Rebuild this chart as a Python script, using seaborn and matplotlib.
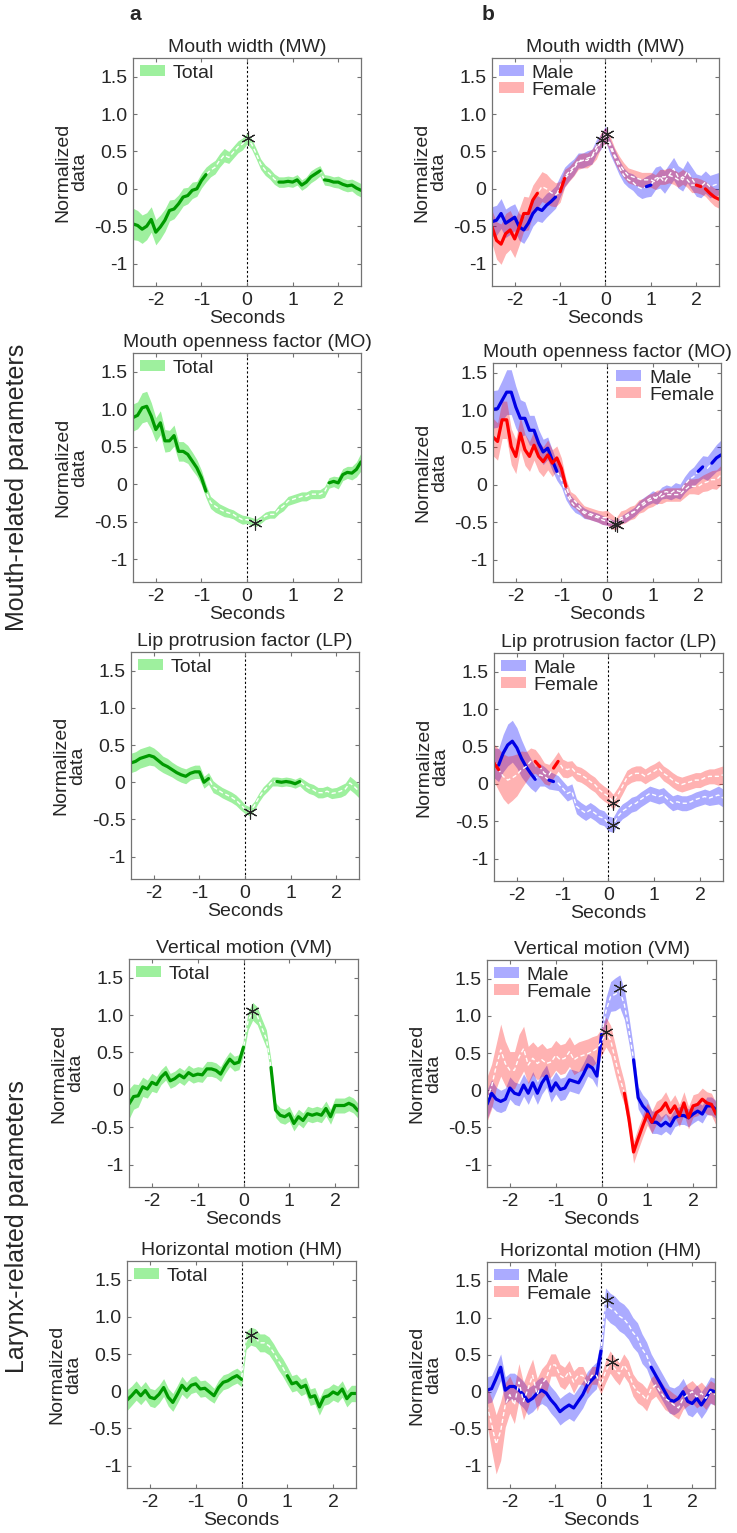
import numpy as np
import pandas as pd
import matplotlib
matplotlib.use('Agg')
import matplotlib.pyplot as plt
import seaborn as sns

###########################
# Data
###########################

# sample times (s), 0.1 s apart
seconds = np.round(np.arange(-25, 26) / 10, 1)

titles = ['Mouth width (MW)', 'Mouth openness factor (MO)', 'Lip protrusion factor (LP)',
          'Vertical motion (VM)', 'Horizontal motion (HM)']

# --- panel a: all speakers ---
mw_total = [-0.47, -0.49, -0.54, -0.50, -0.41, -0.58, -0.51, -0.42, -0.29, -0.27,
            -0.20, -0.11, -0.09, -0.02, 0.00, 0.11, 0.19, 0.25, 0.29, 0.38,
            0.45, 0.42, 0.49, 0.56, 0.60, 0.67, 0.60, 0.47, 0.33, 0.25,
            0.20, 0.13, 0.09, 0.09, 0.10, 0.09, 0.12, 0.05, 0.09, 0.16,
            0.20, 0.24, 0.12, 0.11, 0.09, 0.09, 0.06, 0.04, 0.05, 0.01, -0.02]
mo_total = [0.89, 0.92, 1.02, 1.04, 0.91, 0.73, 0.82, 0.58, 0.58, 0.65,
            0.44, 0.44, 0.40, 0.31, 0.22, 0.09, -0.09, -0.24, -0.29, -0.33,
            -0.36, -0.38, -0.40, -0.44, -0.47, -0.47, -0.49, -0.51, -0.47, -0.42,
            -0.40, -0.40, -0.33, -0.29, -0.22, -0.20, -0.18, -0.16, -0.16, -0.13,
            -0.13, -0.13, -0.10, 0.02, 0.04, 0.02, 0.13, 0.16, 0.15, 0.20, 0.30]
lp_total = [0.26, 0.28, 0.32, 0.34, 0.36, 0.34, 0.29, 0.24, 0.21, 0.17,
            0.13, 0.10, 0.08, 0.12, 0.14, 0.14, 0.00, 0.05, -0.06, -0.10,
            -0.14, -0.17, -0.20, -0.24, -0.30, -0.36, -0.39, -0.32, -0.21, -0.12,
            -0.06, 0.01, 0.01, 0.00, 0.01, 0.00, -0.02, 0.01, -0.04, -0.08,
            -0.10, -0.14, -0.14, -0.12, -0.15, -0.14, -0.12, -0.09, -0.01, -0.06, -0.12]
vm_total = [-0.19, -0.09, -0.08, 0.04, 0.01, 0.10, 0.07, 0.17, 0.23, 0.12,
            0.15, 0.20, 0.16, 0.23, 0.19, 0.21, 0.20, 0.28, 0.28, 0.26,
            0.21, 0.32, 0.41, 0.35, 0.37, 0.57, 0.92, 1.05, 0.99, 0.83,
            0.68, 0.30, -0.27, -0.34, -0.36, -0.32, -0.45, -0.36, -0.41, -0.32,
            -0.34, -0.32, -0.34, -0.25, -0.36, -0.21, -0.21, -0.21, -0.18, -0.21, -0.28]
hm_total = [-0.12, -0.06, 0.01, -0.06, 0.01, -0.08, -0.10, -0.04, 0.05, -0.08,
            -0.15, -0.04, 0.08, 0.01, 0.08, 0.10, 0.03, 0.04, -0.01, -0.06,
            0.05, 0.12, 0.14, 0.18, 0.21, 0.16, 0.68, 0.74, 0.72, 0.65,
            0.65, 0.61, 0.52, 0.41, 0.32, 0.21, 0.10, 0.12, 0.05, 0.08,
            -0.08, -0.06, -0.21, -0.08, -0.06, -0.01, -0.04, 0.03, -0.10, -0.03, -0.03]

hw_mw_total = [0.21, 0.20, 0.19, 0.18, 0.17, 0.17, 0.16, 0.15, 0.14, 0.13,
               0.12, 0.12, 0.11, 0.11, 0.10, 0.10, 0.10, 0.09, 0.09, 0.09,
               0.09, 0.08, 0.08, 0.08, 0.08, 0.07, 0.07, 0.07, 0.07, 0.07,
               0.07, 0.07, 0.07, 0.07, 0.07, 0.07, 0.07, 0.07, 0.07, 0.08,
               0.08, 0.07, 0.07, 0.07, 0.07, 0.08, 0.08, 0.08, 0.08, 0.09, 0.09]
hw_mo_total = [0.18, 0.18, 0.20, 0.20, 0.18, 0.16, 0.16, 0.15, 0.14, 0.14,
               0.13, 0.13, 0.12, 0.12, 0.11, 0.10, 0.09, 0.08, 0.08, 0.07,
               0.07, 0.06, 0.06, 0.06, 0.06, 0.05, 0.05, 0.05, 0.05, 0.05,
               0.05, 0.05, 0.06, 0.06, 0.06, 0.06, 0.06, 0.06, 0.06, 0.06,
               0.06, 0.06, 0.07, 0.07, 0.07, 0.08, 0.08, 0.08, 0.09, 0.10, 0.12]
hw_lp_total = [0.13, 0.13, 0.13, 0.13, 0.13, 0.12, 0.12, 0.11, 0.11, 0.10,
               0.10, 0.10, 0.10, 0.09, 0.09, 0.09, 0.08, 0.08, 0.08, 0.07,
               0.07, 0.07, 0.07, 0.07, 0.07, 0.06, 0.06, 0.06, 0.06, 0.06,
               0.06, 0.06, 0.06, 0.06, 0.06, 0.06, 0.06, 0.06, 0.07, 0.07,
               0.07, 0.07, 0.07, 0.07, 0.07, 0.07, 0.08, 0.08, 0.09, 0.09, 0.09]
hw_vm_total = [0.20, 0.17, 0.15, 0.13, 0.12, 0.12, 0.11, 0.10, 0.10, 0.10,
               0.10, 0.10, 0.10, 0.10, 0.10, 0.10, 0.10, 0.10, 0.10, 0.10,
               0.10, 0.10, 0.10, 0.10, 0.10, 0.10, 0.12, 0.12, 0.12, 0.12,
               0.12, 0.10, 0.10, 0.10, 0.10, 0.10, 0.10, 0.10, 0.10, 0.10,
               0.10, 0.10, 0.10, 0.10, 0.10, 0.10, 0.10, 0.10, 0.10, 0.10, 0.10]
hw_hm_total = [0.14, 0.13, 0.13, 0.12, 0.12, 0.12, 0.12, 0.12, 0.12, 0.12,
               0.12, 0.12, 0.12, 0.11, 0.11, 0.11, 0.11, 0.11, 0.11, 0.10,
               0.10, 0.10, 0.10, 0.10, 0.10, 0.10, 0.12, 0.12, 0.12, 0.12,
               0.12, 0.12, 0.12, 0.12, 0.12, 0.12, 0.11, 0.11, 0.11, 0.11,
               0.11, 0.11, 0.11, 0.11, 0.11, 0.11, 0.11, 0.11, 0.11, 0.11, 0.11]

# --- panel b: male / female ---
mw_male = [-0.44, -0.42, -0.33, -0.46, -0.42, -0.38, -0.51, -0.55, -0.46, -0.33,
           -0.26, -0.29, -0.22, -0.17, -0.11, 0.03, 0.16, 0.23, 0.29, 0.38,
           0.38, 0.41, 0.43, 0.56, 0.63, 0.74, 0.56, 0.43, 0.29, 0.18,
           0.12, 0.09, 0.03, 0.00, 0.03, 0.05, 0.14, 0.16, 0.09, 0.18,
           0.27, 0.16, 0.12, 0.23, 0.14, 0.05, 0.03, 0.09, 0.03, 0.05, 0.07]
mw_female = [-0.51, -0.69, -0.74, -0.60, -0.55, -0.67, -0.51, -0.33, -0.33, -0.15,
             -0.06, 0.03, 0.00, -0.05, -0.08, -0.04, 0.14, 0.20, 0.27, 0.36,
             0.38, 0.38, 0.43, 0.50, 0.65, 0.72, 0.61, 0.45, 0.34, 0.25,
             0.18, 0.16, 0.14, 0.12, 0.12, 0.12, 0.09, 0.16, 0.16, 0.18,
             0.16, 0.12, 0.16, 0.12, 0.05, 0.05, 0.03, 0.00, -0.06, -0.11, -0.14]
mo_male = [1.01, 1.02, 1.13, 1.24, 1.24, 1.04, 0.89, 0.89, 0.73, 0.73,
           0.56, 0.44, 0.49, 0.33, 0.18, 0.07, -0.11, -0.22, -0.29, -0.33,
           -0.38, -0.40, -0.42, -0.44, -0.47, -0.49, -0.51, -0.53, -0.47, -0.44,
           -0.40, -0.36, -0.29, -0.24, -0.20, -0.16, -0.18, -0.11, -0.09, -0.11,
           -0.07, -0.09, 0.00, 0.07, 0.11, 0.18, 0.24, 0.22, 0.29, 0.36, 0.40]
mo_female = [0.64, 0.58, 0.87, 0.87, 0.51, 0.38, 0.69, 0.47, 0.38, 0.53,
             0.38, 0.31, 0.40, 0.29, 0.36, 0.22, -0.02, -0.18, -0.22, -0.29,
             -0.36, -0.38, -0.40, -0.42, -0.44, -0.44, -0.49, -0.52, -0.44, -0.42,
             -0.38, -0.36, -0.29, -0.27, -0.22, -0.20, -0.16, -0.16, -0.13, -0.13,
             -0.13, -0.13, -0.07, -0.02, -0.02, -0.02, 0.02, 0.04, 0.07, 0.07, 0.13]
lp_male = [0.28, 0.25, 0.41, 0.52, 0.57, 0.48, 0.34, 0.23, 0.14, 0.06,
           0.12, 0.10, 0.05, 0.03, 0.01, -0.06, -0.13, -0.10, -0.30, -0.35,
           -0.39, -0.35, -0.39, -0.44, -0.46, -0.53, -0.55, -0.44, -0.37, -0.33,
           -0.28, -0.26, -0.21, -0.17, -0.13, -0.15, -0.17, -0.15, -0.21, -0.26,
           -0.24, -0.26, -0.26, -0.24, -0.21, -0.19, -0.17, -0.19, -0.17, -0.15, -0.19]
lp_female = [0.28, 0.19, 0.10, 0.05, 0.08, 0.12, 0.19, 0.23, 0.30, 0.30,
             0.23, 0.14, 0.12, 0.21, 0.30, 0.21, 0.19, 0.21, 0.14, 0.12,
             0.08, 0.03, -0.01, -0.08, -0.13, -0.17, -0.24, -0.15, -0.04, 0.08,
             0.12, 0.14, 0.14, 0.10, 0.14, 0.17, 0.21, 0.14, 0.10, 0.05,
             0.01, -0.01, 0.01, 0.03, 0.05, 0.05, 0.08, 0.10, 0.10, 0.10, 0.12]
vm_male = [-0.19, -0.04, -0.12, -0.15, -0.12, 0.03, -0.04, -0.06, 0.07, -0.04,
           0.10, -0.04, 0.10, 0.19, -0.01, 0.10, 0.01, 0.03, 0.14, 0.12,
           0.10, 0.21, 0.34, 0.30, 0.19, 0.75, 1.07, 1.26, 1.29, 1.33,
           1.15, 0.80, 0.41, -0.10, -0.21, -0.28, -0.43, -0.43, -0.48, -0.43,
           -0.48, -0.37, -0.34, -0.34, -0.37, -0.32, -0.28, -0.32, -0.21, -0.21, -0.26]
vm_female = [-0.12, 0.05, 0.32, 0.54, 0.36, 0.27, 0.27, 0.45, 0.56, 0.34,
             0.43, 0.36, 0.41, 0.36, 0.38, 0.47, 0.41, 0.43, 0.52, 0.41,
             0.45, 0.47, 0.49, 0.52, 0.56, 0.65, 0.78, 0.67, 0.41, 0.16,
             -0.04, -0.39, -0.83, -0.65, -0.48, -0.32, -0.43, -0.30, -0.26, -0.17,
             -0.30, -0.21, -0.34, -0.17, -0.37, -0.21, -0.19, -0.12, -0.17, -0.19, -0.32]
hm_male = [0.02, 0.04, 0.18, 0.33, 0.02, 0.07, 0.07, 0.02, -0.04, -0.13,
           -0.09, -0.02, 0.02, -0.02, -0.11, -0.18, -0.27, -0.22, -0.18, -0.22,
           -0.13, -0.04, 0.09, 0.16, 0.22, 0.55, 1.20, 1.13, 1.09, 1.02,
           0.98, 0.91, 0.80, 0.73, 0.58, 0.49, 0.33, 0.22, 0.11, 0.00,
           -0.11, -0.13, -0.09, 0.00, -0.13, -0.16, -0.09, -0.18, -0.09, 0.02, 0.00]
hm_female = [-0.18, -0.44, -0.71, -0.53, -0.18, -0.04, -0.18, 0.13, -0.13, 0.04,
             0.22, -0.04, 0.11, 0.18, 0.36, 0.36, 0.22, 0.18, 0.27, 0.13,
             0.22, 0.22, 0.09, 0.22, 0.22, 0.09, 0.27, 0.40, 0.31, 0.24,
             0.36, 0.27, 0.09, 0.00, -0.04, -0.11, 0.04, 0.09, 0.00, -0.09,
             -0.13, -0.18, -0.22, -0.09, -0.04, 0.00, -0.07, -0.02, -0.09, 0.00, -0.04]

hw_mw_male = [0.20, 0.20, 0.20, 0.19, 0.19, 0.18, 0.18, 0.18, 0.17, 0.17,
              0.17, 0.16, 0.16, 0.15, 0.15, 0.14, 0.13, 0.12, 0.11, 0.10,
              0.10, 0.10, 0.10, 0.10, 0.10, 0.10, 0.10, 0.10, 0.10, 0.10,
              0.10, 0.11, 0.12, 0.13, 0.14, 0.15, 0.15, 0.15, 0.15, 0.15,
              0.15, 0.15, 0.15, 0.15, 0.15, 0.15, 0.15, 0.15, 0.15, 0.15, 0.15]
hw_mw_female = [0.22, 0.25, 0.27, 0.27, 0.26, 0.25, 0.24, 0.23, 0.22, 0.20,
                0.20, 0.20, 0.20, 0.18, 0.16, 0.14, 0.12, 0.10, 0.10, 0.10,
                0.10, 0.10, 0.10, 0.10, 0.10, 0.10, 0.10, 0.10, 0.10, 0.10,
                0.10, 0.10, 0.10, 0.10, 0.10, 0.10, 0.10, 0.10, 0.10, 0.10,
                0.10, 0.10, 0.10, 0.10, 0.10, 0.10, 0.10, 0.10, 0.11, 0.12, 0.12]
hw_mo_male = [0.25, 0.25, 0.27, 0.30, 0.30, 0.28, 0.25, 0.22, 0.20, 0.20,
              0.18, 0.17, 0.15, 0.14, 0.12, 0.10, 0.09, 0.08, 0.08, 0.07,
              0.07, 0.06, 0.06, 0.06, 0.06, 0.05, 0.05, 0.05, 0.05, 0.06,
              0.06, 0.06, 0.07, 0.07, 0.07, 0.08, 0.08, 0.08, 0.09, 0.09,
              0.10, 0.10, 0.11, 0.12, 0.13, 0.14, 0.15, 0.16, 0.17, 0.18, 0.20]
hw_mo_female = [0.25, 0.25, 0.25, 0.25, 0.24, 0.23, 0.22, 0.21, 0.20, 0.20,
                0.20, 0.20, 0.20, 0.18, 0.16, 0.14, 0.10, 0.09, 0.09, 0.08,
                0.08, 0.08, 0.08, 0.08, 0.09, 0.10, 0.10, 0.08, 0.09, 0.09,
                0.09, 0.09, 0.09, 0.09, 0.09, 0.09, 0.09, 0.09, 0.09, 0.09,
                0.09, 0.09, 0.10, 0.10, 0.10, 0.11, 0.11, 0.12, 0.12, 0.13, 0.13]
hw_lp_male = [0.20, 0.22, 0.25, 0.28, 0.28, 0.27, 0.25, 0.22, 0.20, 0.17,
              0.15, 0.13, 0.12, 0.11, 0.10, 0.10, 0.10, 0.10, 0.10, 0.10,
              0.10, 0.10, 0.10, 0.10, 0.10, 0.10, 0.10, 0.10, 0.10, 0.10,
              0.10, 0.10, 0.10, 0.10, 0.10, 0.10, 0.10, 0.10, 0.10, 0.10,
              0.10, 0.10, 0.10, 0.10, 0.10, 0.10, 0.10, 0.10, 0.11, 0.12, 0.12]
hw_lp_female = [0.25, 0.28, 0.30, 0.32, 0.30, 0.28, 0.25, 0.20, 0.18, 0.16,
                0.15, 0.14, 0.14, 0.13, 0.13, 0.12, 0.11, 0.10, 0.10, 0.10,
                0.10, 0.10, 0.10, 0.10, 0.10, 0.10, 0.10, 0.10, 0.10, 0.10,
                0.10, 0.10, 0.10, 0.10, 0.10, 0.10, 0.10, 0.10, 0.10, 0.10,
                0.10, 0.10, 0.10, 0.10, 0.10, 0.10, 0.10, 0.10, 0.10, 0.12, 0.12]
hw_vm_male = [0.20, 0.18, 0.16, 0.15, 0.15, 0.15, 0.15, 0.15, 0.15, 0.15,
              0.15, 0.15, 0.15, 0.15, 0.15, 0.15, 0.15, 0.15, 0.15, 0.15,
              0.15, 0.15, 0.15, 0.15, 0.15, 0.15, 0.18, 0.20, 0.22, 0.22,
              0.20, 0.18, 0.15, 0.15, 0.15, 0.15, 0.15, 0.15, 0.12, 0.12,
              0.12, 0.12, 0.12, 0.12, 0.12, 0.12, 0.12, 0.12, 0.12, 0.12, 0.12]
hw_vm_female = [0.30, 0.30, 0.30, 0.35, 0.30, 0.25, 0.25, 0.30, 0.30, 0.25,
                0.22, 0.22, 0.22, 0.20, 0.20, 0.20, 0.20, 0.20, 0.20, 0.20,
                0.20, 0.20, 0.20, 0.20, 0.18, 0.18, 0.20, 0.20, 0.20, 0.18,
                0.15, 0.15, 0.15, 0.15, 0.15, 0.15, 0.15, 0.15, 0.15, 0.15,
                0.15, 0.15, 0.15, 0.15, 0.15, 0.15, 0.15, 0.15, 0.15, 0.15, 0.15]
hw_hm_male = [0.18, 0.18, 0.18, 0.18, 0.18, 0.18, 0.18, 0.18, 0.18, 0.18,
              0.18, 0.18, 0.18, 0.18, 0.18, 0.18, 0.18, 0.18, 0.18, 0.18,
              0.18, 0.18, 0.18, 0.18, 0.18, 0.18, 0.20, 0.20, 0.20, 0.20,
              0.20, 0.20, 0.20, 0.20, 0.20, 0.18, 0.18, 0.18, 0.18, 0.18,
              0.18, 0.18, 0.18, 0.18, 0.18, 0.18, 0.18, 0.18, 0.18, 0.18, 0.18]
hw_hm_female = [0.25, 0.35, 0.40, 0.40, 0.30, 0.25, 0.25, 0.25, 0.25, 0.25,
                0.22, 0.22, 0.20, 0.20, 0.15, 0.15, 0.15, 0.15, 0.15, 0.15,
                0.12, 0.12, 0.12, 0.12, 0.12, 0.12, 0.15, 0.15, 0.15, 0.15,
                0.15, 0.15, 0.15, 0.15, 0.15, 0.15, 0.15, 0.15, 0.15, 0.15,
                0.15, 0.15, 0.15, 0.15, 0.15, 0.15, 0.15, 0.15, 0.15, 0.15, 0.15]

# significant stretches (s), drawn as solid lines
sig_total = [[(-2.5, -0.9), (0.7, 1.6), (1.7, 2.5)],
             [(-2.5, -0.9), (1.8, 2.5)],
             [(-2.5, -0.8), (0.7, 1.2)],
             [(-2.5, 0.0), (0.6, 2.5)],
             [(-2.5, 0.0), (1.0, 2.5)]]
sig_male = [[(-2.5, -1.1), (0.9, 1.0)],
            [(-2.5, -1.1), (2.0, 2.1), (2.3, 2.5)],
            [(-2.4, -1.6), (-1.3, -1.2)],
            [(-2.5, 0.0), (0.7, 2.5)],
            [(-2.5, 0.0), (1.1, 2.5)]]
sig_female = [[(-2.5, -1.5), (-1.0, -0.9), (2.0, 2.1), (2.2, 2.5)],
              [(-2.5, -0.9)],
              [(-2.5, -2.4), (-1.6, -1.5), (-1.2, -1.1)],
              [(0.5, 2.5)],
              []]

# peak markers (time, value)
peak_total = [(0.03, 0.68), (0.18, -0.52), (0.10, -0.40), (0.18, 1.06), (0.20, 0.76)]
peak_male = [(0.04, 0.74), (0.18, -0.53), (0.10, -0.55), (0.40, 1.38), (0.13, 1.24)]
peak_female = [(-0.07, 0.65), (0.22, -0.54), (0.10, -0.26), (0.10, 0.78), (0.25, 0.40)]

total_means = [mw_total, mo_total, lp_total, vm_total, hm_total]
total_hw = [hw_mw_total, hw_mo_total, hw_lp_total, hw_vm_total, hw_hm_total]
male_means = [mw_male, mo_male, lp_male, vm_male, hm_male]
male_hw = [hw_mw_male, hw_mo_male, hw_lp_male, hw_vm_male, hw_hm_male]
female_means = [mw_female, mo_female, lp_female, vm_female, hm_female]
female_hw = [hw_mw_female, hw_mo_female, hw_lp_female, hw_vm_female, hw_hm_female]

xticks = [-2, -1, 0, 1, 2]
xtick_labels = ['-2', '-1', '0', '1', '2']
yticks = [-1, -0.5, 0, 0.5, 1.0, 1.5]
ytick_labels = ['-1', '-0.5', '0', '0.5', '1.0', '1.5']

###########################
# Layout (pixels of a 737x1533 canvas)
###########################
W, H = 737, 1533
left_boxes = [(133, 58, 361, 286), (133, 353, 361, 582), (131, 652, 359, 879),
              (129, 959, 358, 1187), (127, 1261, 356, 1488)]
right_boxes = [(492, 58, 719, 286), (493, 363, 721, 582), (494, 653, 723, 881),
               (487, 960, 716, 1187), (487, 1262, 715, 1488)]
right_ytop = [1.75, 1.63, 1.75, 1.75, 1.75]

sns.set_style('ticks')
plt.rcParams['font.family'] = ['Liberation Sans', 'DejaVu Sans']
FS = 14


def add_box(fig, box):
    x0, y0, x1, y1 = box
    return fig.add_axes([x0 / W, 1 - y1 / H, (x1 - x0) / W, (y1 - y0) / H])


def draw_series(ax, mean, hw, sig, band_color, band_alpha, line_color, label):
    '''Band, white dashed mean and solid significant stretches'''
    mean = np.array(mean)
    hw = np.array(hw)
    ax.fill_between(seconds, mean - hw, mean + hw, color=band_color, alpha=band_alpha,
                    lw=0, label=label)
    sns.lineplot(x=seconds, y=mean, ax=ax, color='white', lw=1.0,
                 linestyle=(0, (3, 2)), legend=False)
    parts = []
    for k, (a, b) in enumerate(sig):
        m = (seconds >= a - 1e-6) & (seconds <= b + 1e-6)
        parts.append(pd.DataFrame({'t': seconds[m], 'v': mean[m], 'seg': k}))
    if parts:
        df = pd.concat(parts)
        sns.lineplot(data=df, x='t', y='v', units='seg', estimator=None, ax=ax,
                     color=line_color, lw=2.3, legend=False)


def style_axes(ax, title, ytop):
    ax.axvline(0, color='k', lw=0.8, ls=(0, (2, 2)), zorder=0.5)
    ax.set_xlim(-2.5, 2.5)
    ax.set_ylim(-1.3, ytop)
    ax.set_xticks(xticks)
    ax.set_xticklabels(xtick_labels)
    ax.set_yticks(yticks)
    ax.set_yticklabels(ytick_labels)
    ax.tick_params(direction='in', top=True, right=True, length=3, width=0.8,
                   color='0.45', labelsize=FS, pad=4)
    for sp in ax.spines.values():
        sp.set_color('0.45')
        sp.set_linewidth(0.9)
    ax.set_title(title, fontsize=FS, pad=4)
    ax.set_xlabel('Seconds', fontsize=FS, labelpad=1)
    ax.set_ylabel('Normalized\ndata', fontsize=FS, labelpad=4, linespacing=1.0)


fig = plt.figure(figsize=(W / 100, H / 100), dpi=100)

star = dict(marker=(6, 2, 0), ms=10, mew=0.8, color='0.15', ls='none', zorder=5)
leg_kw = dict(frameon=False, fontsize=FS, handlelength=1.3, handleheight=0.5,
              handletextpad=0.4, labelspacing=0.0, borderaxespad=0.1, borderpad=0.25)

for i in range(5):
    # panel a
    ax = add_box(fig, left_boxes[i])
    draw_series(ax, total_means[i], total_hw[i], sig_total[i], '#9ef09e', 1.0,
                '#009a00', 'Total')
    ax.plot([peak_total[i][0]], [peak_total[i][1]], **star)
    style_axes(ax, titles[i], 1.75)
    ax.legend(loc='upper left', **leg_kw)

    # panel b
    ax = add_box(fig, right_boxes[i])
    draw_series(ax, male_means[i], male_hw[i], sig_male[i], '#0000ff', 0.33,
                '#0000e6', 'Male')
    draw_series(ax, female_means[i], female_hw[i], sig_female[i], '#ff0000', 0.3,
                '#ff0000', 'Female')
    ax.plot([peak_male[i][0]], [peak_male[i][1]], **star)
    ax.plot([peak_female[i][0]], [peak_female[i][1]], **star)
    style_axes(ax, titles[i], right_ytop[i])
    ax.legend(loc='upper right' if i == 1 else 'upper left', **leg_kw)

fig.text(135 / W, 1 - 14 / H, 'a', fontsize=15, fontweight='bold', ha='center', va='center')
fig.text(488 / W, 1 - 14 / H, 'b', fontsize=15, fontweight='bold', ha='center', va='center')
fig.text(17 / W, 1 - 487 / H, 'Mouth-related parameters', rotation=90, fontsize=18,
         ha='center', va='center')
fig.text(17 / W, 1 - 1227 / H, 'Larynx-related parameters', rotation=90, fontsize=18,
         ha='center', va='center')

fig.savefig('out.png', dpi=100)
